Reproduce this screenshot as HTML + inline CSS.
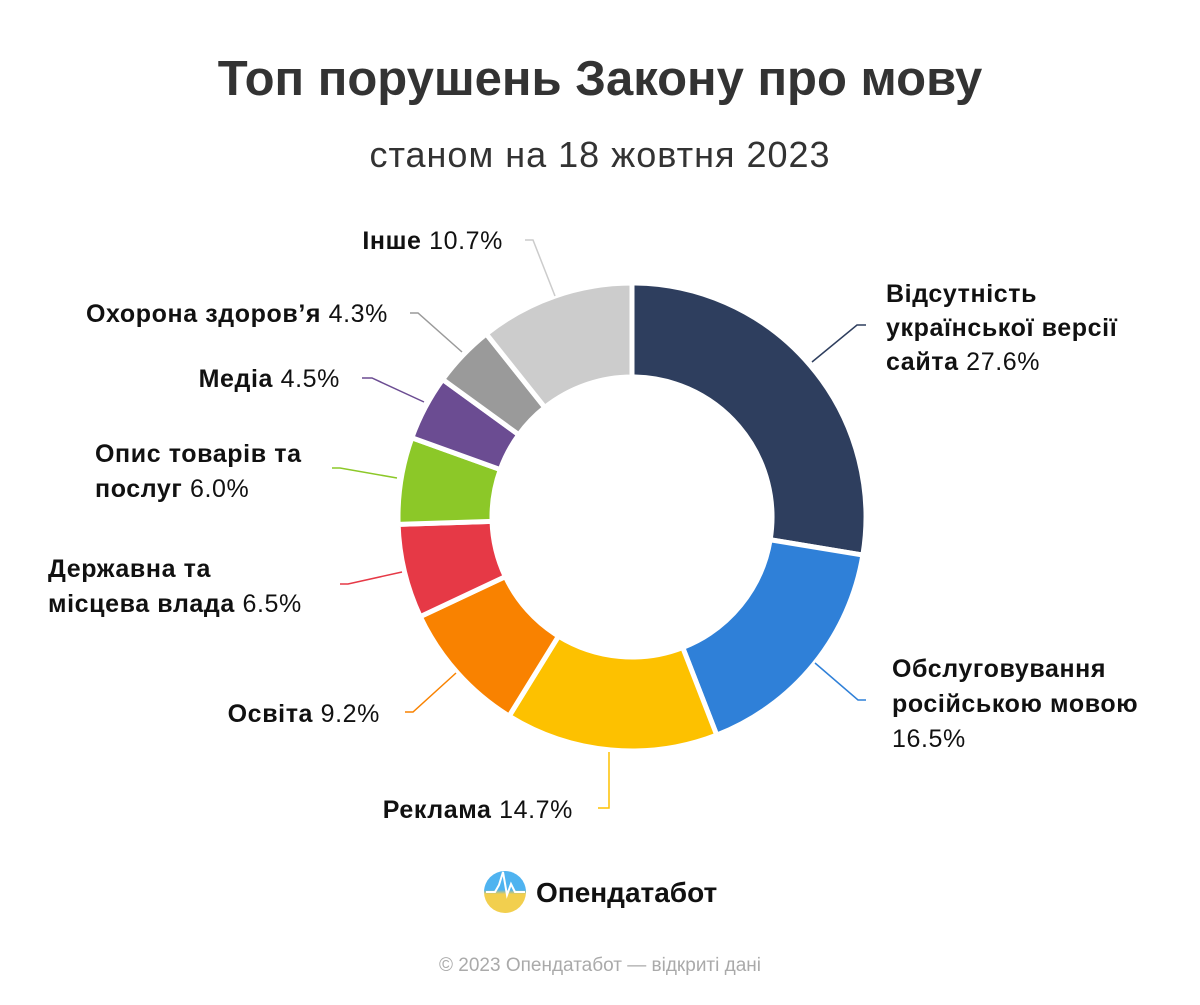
<!DOCTYPE html>
<html><head><meta charset="utf-8"><style>
body{margin:0;background:#fff;width:1200px;height:1000px;overflow:hidden;font-family:"Liberation Sans",sans-serif;color:#111}
</style></head><body>
<svg id="s" width="1200" height="1000" xmlns="http://www.w3.org/2000/svg" font-family="Liberation Sans, sans-serif">
<text x="600" y="95" text-anchor="middle" font-size="49" font-weight="bold" fill="#333">Топ порушень Закону про мову</text>
<text x="600" y="167" text-anchor="middle" font-size="36" letter-spacing="1" fill="#333">станом на 18 жовтня 2023</text>
<g id="donut"></g>
<g fill="none" stroke-width="1.5">
<polyline points="812,362 857,325 866,325" stroke="#2e3e5e"/>
<polyline points="815,663 858,700 866,700" stroke="#2f80d8"/>
<polyline points="609,752 609,808 598,808" stroke="#fdc100"/>
<polyline points="456,673 413,712 405,712" stroke="#f98200"/>
<polyline points="402,572 348,584 340,584" stroke="#e63946"/>
<polyline points="397,478 340,468 332,468" stroke="#8cc828"/>
<polyline points="424,402 372,378 362,378" stroke="#6b4c92"/>
<polyline points="462,352 418,313 410,313" stroke="#9a9a9a"/>
<polyline points="555,296 533,240 525,240" stroke="#cccccc"/>
</g>
<g font-size="25" letter-spacing="0.6" fill="#111">
<text x="886" y="302"><tspan font-weight="bold">Відсутність</tspan></text>
<text x="886" y="336"><tspan font-weight="bold">української версії</tspan></text>
<text x="886" y="370"><tspan font-weight="bold">сайта</tspan> 27.6%</text>
<text x="892" y="677"><tspan font-weight="bold">Обслуговування</tspan></text>
<text x="892" y="712"><tspan font-weight="bold">російською мовою</tspan></text>
<text x="892" y="747">16.5%</text>
<text x="573" y="818" text-anchor="end"><tspan font-weight="bold">Реклама</tspan> 14.7%</text>
<text x="380" y="722" text-anchor="end"><tspan font-weight="bold">Освіта</tspan> 9.2%</text>
<text x="48" y="577"><tspan font-weight="bold">Державна та</tspan></text>
<text x="48" y="612"><tspan font-weight="bold">місцева влада</tspan> 6.5%</text>
<text x="95" y="462"><tspan font-weight="bold">Опис товарів та</tspan></text>
<text x="95" y="497"><tspan font-weight="bold">послуг</tspan> 6.0%</text>
<text x="340" y="387" text-anchor="end"><tspan font-weight="bold">Медіа</tspan> 4.5%</text>
<text x="388" y="322" text-anchor="end"><tspan font-weight="bold">Охорона здоров’я</tspan> 4.3%</text>
<text x="503" y="249" text-anchor="end"><tspan font-weight="bold">Інше</tspan> 10.7%</text>
</g>
<defs>
<linearGradient id="lg" x1="0" y1="0" x2="0" y2="1"><stop offset="0.45" stop-color="#4fb3f0"/><stop offset="0.55" stop-color="#f2cf4e"/></linearGradient>
</defs>
<circle cx="505" cy="892" r="21" fill="url(#lg)"/>
<polyline points="486,892 495,892 499,885 503,872 507,895 511,884 515,892 525,892" fill="none" stroke="#fff" stroke-width="2"/>
<text x="536" y="902" font-size="28" font-weight="bold" fill="#111">Опендатабот</text>
<text x="600" y="971" text-anchor="middle" font-size="19" fill="#aaa">© 2023 Опендатабот — відкриті дані</text>
</svg>
<script>
var cx=632,cy=517,R=234,r=140;
var v=[27.6,16.5,14.7,9.2,6.5,6.0,4.5,4.3,10.7];
var c=["#2e3e5e","#2f80d8","#fdc100","#f98200","#e63946","#8cc828","#6b4c92","#9a9a9a","#cccccc"];
var a=-Math.PI/2,g=document.getElementById("donut"),h="";
function p(rad,an){return (cx+rad*Math.cos(an)).toFixed(2)+","+(cy+rad*Math.sin(an)).toFixed(2);}
for(var i=0;i<v.length;i++){var b=a+v[i]/100*2*Math.PI;var l=(b-a)>Math.PI?1:0;
h+='<path d="M'+p(R,a)+' A'+R+','+R+' 0 '+l+' 1 '+p(R,b)+' L'+p(r,b)+' A'+r+','+r+' 0 '+l+' 0 '+p(r,a)+' Z" fill="'+c[i]+'" stroke="#fff" stroke-width="5" stroke-linejoin="round"/>';a=b;}
g.innerHTML=h;
</script>
</body></html>
